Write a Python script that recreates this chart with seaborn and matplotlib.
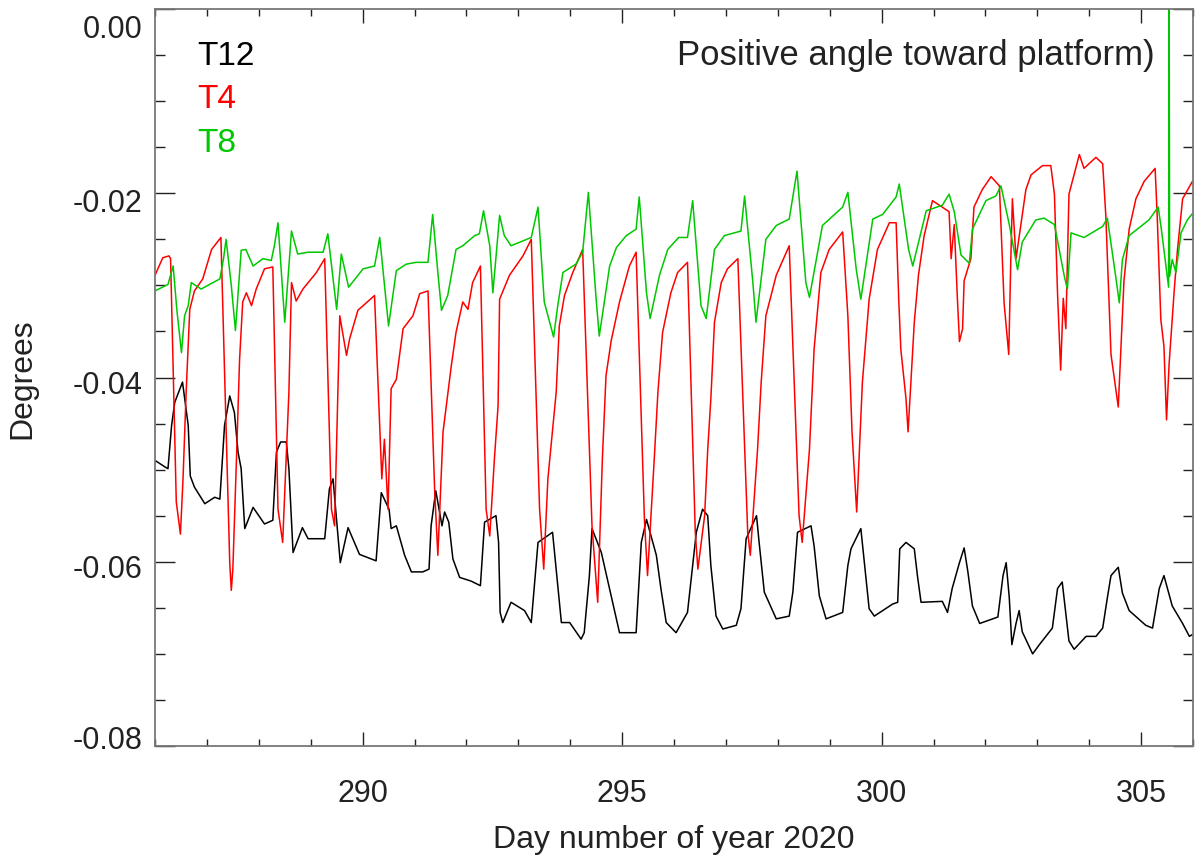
import matplotlib
matplotlib.use("Agg")
import matplotlib.pyplot as plt
import matplotlib.transforms as mtransforms
import numpy as np
import seaborn as sns
from matplotlib.ticker import FixedLocator, MultipleLocator

# Tilt of three towers (values in millidegrees)
t12_day = [286.00, 286.19, 286.25, 286.32, 286.38, 286.53, 286.64, 286.68, 286.76, 286.96,
           287.15, 287.25, 287.34, 287.44, 287.53, 287.60, 287.66, 287.73, 287.89, 288.11,
           288.27, 288.34, 288.42, 288.53, 288.58, 288.66, 288.84, 288.95, 289.27, 289.36,
           289.43, 289.57, 289.72, 289.94, 290.26, 290.36, 290.51, 290.55, 290.65, 290.81,
           290.94, 291.16, 291.28, 291.32, 291.41, 291.53, 291.58, 291.66, 291.74, 291.87,
           292.09, 292.27, 292.35, 292.57, 292.62, 292.65, 292.70, 292.86, 293.12, 293.25,
           293.38, 293.66, 293.73, 293.83, 293.99, 294.21, 294.27, 294.37, 294.42, 294.60,
           294.79, 294.95, 295.27, 295.37, 295.47, 295.66, 295.75, 295.85, 296.04, 296.26,
           296.36, 296.43, 296.55, 296.65, 296.71, 296.81, 296.94, 297.20, 297.29, 297.39,
           297.59, 297.64, 297.74, 297.97, 298.22, 298.29, 298.38, 298.64, 298.70, 298.80,
           298.93, 299.25, 299.35, 299.41, 299.60, 299.76, 299.86, 300.21, 300.31, 300.35,
           300.47, 300.63, 300.69, 300.76, 301.17, 301.27, 301.36, 301.50, 301.59, 301.66,
           301.75, 301.89, 302.24, 302.34, 302.40, 302.46, 302.51, 302.59, 302.65, 302.71,
           302.91, 303.04, 303.29, 303.39, 303.48, 303.61, 303.71, 303.94, 304.13, 304.26,
           304.35, 304.42, 304.56, 304.64, 304.77, 305.09, 305.22, 305.35, 305.44, 305.60,
           305.80, 305.93, 305.99]
t12_mdeg = [-49.0, -49.7, -49.9, -45.2, -42.7, -40.5, -45.2, -50.7, -51.9, -53.7,
            -53.0, -53.2, -45.2, -42.0, -43.8, -48.1, -49.9, -56.4, -54.1, -55.9,
            -55.5, -48.1, -47.0, -47.0, -49.9, -59.0, -56.3, -57.5, -57.5, -52.1,
            -51.0, -60.1, -56.3, -59.2, -59.9, -52.5, -54.3, -56.4, -56.1, -59.3,
            -61.1, -61.1, -60.8, -56.1, -52.3, -56.1, -54.6, -55.7, -59.7, -61.7,
            -62.1, -62.6, -55.7, -55.0, -57.9, -65.5, -66.6, -64.4, -65.3, -66.6,
            -57.9, -56.8, -60.8, -66.6, -66.6, -68.4, -67.7, -61.5, -56.4, -59.0,
            -63.7, -67.7, -67.7, -57.9, -55.4, -59.3, -63.0, -66.6, -67.7, -65.5,
            -60.4, -56.8, -54.3, -55.0, -60.4, -65.9, -67.3, -66.9, -65.1, -57.5,
            -55.0, -57.9, -63.3, -66.2, -65.9, -63.3, -56.8, -56.1, -58.3, -63.7,
            -66.2, -65.5, -60.4, -58.6, -56.4, -65.1, -65.9, -64.6, -64.4, -58.6,
            -57.9, -58.6, -61.5, -64.4, -64.3, -65.5, -62.9, -60.1, -58.5, -61.0,
            -64.8, -66.7, -66.0, -61.5, -60.1, -63.9, -69.0, -66.7, -65.3, -67.6,
            -70.0, -69.0, -67.2, -62.9, -62.2, -68.6, -69.5, -68.1, -68.1, -67.2,
            -63.9, -61.5, -60.6, -63.4, -65.3, -66.9, -67.2, -62.9, -61.5, -64.8,
            -66.7, -68.1, -67.9]

t4_day = [286.00, 286.15, 286.27, 286.30, 286.41, 286.49, 286.54, 286.60, 286.67, 286.76,
          286.92, 287.09, 287.27, 287.44, 287.47, 287.50, 287.57, 287.63, 287.69, 287.76,
          287.86, 287.95, 288.11, 288.27, 288.37, 288.46, 288.58, 288.63, 288.72, 288.85,
          289.11, 289.27, 289.40, 289.46, 289.56, 289.69, 289.75, 289.91, 290.23, 290.37,
          290.42, 290.49, 290.55, 290.65, 290.78, 290.97, 291.10, 291.26, 291.39, 291.45,
          291.55, 291.71, 291.80, 291.93, 292.03, 292.12, 292.27, 292.38, 292.45, 292.54,
          292.61, 292.64, 292.83, 293.09, 293.25, 293.41, 293.49, 293.57, 293.73, 293.79,
          293.89, 294.05, 294.24, 294.42, 294.53, 294.62, 294.69, 294.79, 294.95, 295.14,
          295.27, 295.43, 295.49, 295.62, 295.69, 295.78, 295.94, 296.07, 296.26, 296.41,
          296.46, 296.59, 296.65, 296.71, 296.78, 296.91, 297.03, 297.23, 297.42, 297.47,
          297.61, 297.68, 297.77, 297.97, 298.22, 298.41, 298.47, 298.61, 298.70, 298.83,
          298.99, 299.25, 299.35, 299.43, 299.52, 299.63, 299.76, 299.92, 300.15, 300.28,
          300.33, 300.37, 300.47, 300.51, 300.63, 300.71, 300.82, 300.98, 301.30, 301.34,
          301.40, 301.46, 301.50, 301.56, 301.59, 301.72, 301.78, 301.94, 302.11, 302.27,
          302.36, 302.45, 302.49, 302.52, 302.59, 302.78, 302.88, 303.10, 303.26, 303.33,
          303.39, 303.45, 303.50, 303.55, 303.61, 303.81, 303.90, 304.13, 304.26, 304.32,
          304.42, 304.56, 304.67, 304.77, 304.90, 305.06, 305.27, 305.31, 305.38, 305.44,
          305.49, 305.54, 305.64, 305.70, 305.80, 305.99]
t4_mdeg = [-28.9, -27.0, -26.8, -27.1, -53.5, -57.0, -51.0, -41.6, -32.6, -30.6,
           -29.3, -26.1, -24.8, -60.1, -63.1, -60.8, -48.8, -38.0, -31.8, -30.8,
           -32.2, -30.4, -28.2, -28.0, -54.3, -57.9, -41.6, -29.7, -31.7, -30.4,
           -28.6, -27.1, -54.3, -56.1, -33.3, -37.6, -35.8, -32.7, -31.1, -51.0,
           -46.7, -54.3, -41.2, -40.2, -34.7, -33.3, -30.9, -30.6, -52.5, -59.3,
           -45.9, -38.7, -35.1, -31.8, -32.6, -29.7, -27.9, -54.3, -57.2, -48.8,
           -43.1, -31.5, -28.9, -26.8, -25.0, -54.3, -60.8, -51.0, -41.6, -34.4,
           -31.1, -28.6, -26.1, -56.1, -64.4, -48.8, -39.8, -36.0, -31.8, -27.9,
           -26.4, -55.4, -61.5, -48.8, -41.6, -35.1, -30.8, -28.6, -27.5, -56.8,
           -60.8, -55.0, -47.8, -42.3, -34.0, -29.7, -28.2, -27.1, -56.8, -59.3,
           -47.8, -40.5, -33.3, -28.9, -25.7, -55.0, -57.9, -47.8, -36.9, -28.6,
           -26.1, -24.2, -33.3, -45.9, -54.6, -40.5, -31.5, -26.1, -23.2, -23.2,
           -31.5, -36.9, -42.3, -45.9, -34.0, -28.9, -24.6, -20.8, -22.0, -27.1,
           -23.4, -31.4, -36.1, -34.7, -29.5, -27.1, -21.5, -19.6, -18.2, -19.2,
           -31.9, -37.5, -27.1, -20.6, -27.1, -19.6, -18.0, -17.0, -17.0, -20.1,
           -30.9, -39.2, -31.4, -34.7, -20.1, -15.8, -17.3, -16.1, -16.8, -22.4,
           -37.5, -43.2, -29.5, -23.9, -20.6, -18.7, -17.3, -22.4, -33.7, -36.6,
           -44.6, -38.5, -30.4, -26.2, -20.6, -18.7]

t8_day = [286.00, 286.25, 286.35, 286.42, 286.51, 286.57, 286.64, 286.70, 286.89, 287.05,
          287.25, 287.32, 287.37, 287.47, 287.55, 287.66, 287.75, 287.89, 288.08, 288.24,
          288.30, 288.37, 288.50, 288.63, 288.75, 288.95, 289.24, 289.33, 289.50, 289.59,
          289.73, 290.01, 290.23, 290.33, 290.50, 290.65, 290.84, 291.03, 291.26, 291.35,
          291.45, 291.52, 291.64, 291.80, 291.93, 292.16, 292.25, 292.33, 292.45, 292.51,
          292.64, 292.73, 292.86, 293.25, 293.38, 293.50, 293.68, 293.76, 293.86, 294.11,
          294.24, 294.35, 294.50, 294.56, 294.76, 294.89, 295.08, 295.27, 295.33, 295.47,
          295.54, 295.72, 295.88, 296.09, 296.26, 296.36, 296.52, 296.62, 296.78, 296.97,
          297.29, 297.36, 297.52, 297.58, 297.77, 297.97, 298.22, 298.37, 298.54, 298.61,
          298.86, 299.25, 299.35, 299.51, 299.60, 299.83, 300.02, 300.28, 300.34, 300.52,
          300.60, 300.86, 301.17, 301.30, 301.40, 301.53, 301.69, 301.75, 302.01, 302.20,
          302.30, 302.46, 302.62, 302.71, 302.97, 303.13, 303.33, 303.52, 303.58, 303.65,
          303.90, 304.26, 304.35, 304.51, 304.58, 304.64, 304.77, 305.15, 305.33, 305.39,
          305.53, 305.54, 305.55, 305.60, 305.67, 305.77, 305.89, 305.99]
t8_mdeg = [-30.6, -29.9, -27.9, -32.6, -37.3, -33.3, -32.2, -29.7, -30.4, -29.9,
           -29.3, -27.1, -25.0, -30.0, -34.9, -26.2, -26.1, -27.9, -27.1, -27.3,
           -25.7, -23.2, -34.0, -24.1, -26.6, -26.4, -26.4, -24.4, -32.6, -26.6,
           -30.2, -28.2, -27.9, -24.8, -34.4, -28.4, -27.7, -27.5, -27.5, -22.3,
           -28.6, -32.7, -31.1, -26.1, -25.7, -24.6, -24.4, -21.9, -25.7, -30.8,
           -22.4, -24.6, -25.7, -24.8, -21.5, -31.8, -35.6, -32.2, -28.6, -27.7,
           -26.4, -19.9, -31.5, -35.5, -27.9, -25.9, -24.6, -23.9, -20.4, -30.8,
           -33.6, -28.9, -26.1, -24.8, -24.8, -20.8, -32.2, -33.6, -26.1, -24.6,
           -24.1, -20.3, -29.7, -34.0, -25.0, -23.5, -22.8, -17.6, -29.7, -31.3,
           -23.5, -21.5, -19.9, -28.2, -31.5, -22.8, -22.3, -20.4, -19.0, -26.1,
           -27.9, -21.9, -21.3, -20.1, -22.0, -26.7, -27.6, -23.9, -20.8, -20.3,
           -19.2, -23.4, -28.3, -25.3, -22.9, -22.7, -23.4, -29.0, -30.4, -24.3,
           -24.8, -23.6, -22.7, -29.0, -31.9, -27.2, -24.6, -22.9, -21.5, -23.9,
           -30.2, 2.0, -29.0, -27.2, -28.6, -24.3, -22.9, -22.2]

x_ticks = [290, 295, 300, 305]
y_ticks = [-0.08, -0.06, -0.04, -0.02, 0.00]
y_tick_labels = ["-0.08", "-0.06", "-0.04", "-0.02", "0.00"]

ink = "#222222"

sns.set_style("ticks")
plt.rcParams["font.family"] = ["Liberation Sans", "DejaVu Sans"]
plt.rcParams["axes.unicode_minus"] = False

fig = plt.figure(figsize=(12.01, 8.62), dpi=100)
ax = fig.add_axes([155 / 1201, 115 / 862, 1038 / 1201, 737 / 862])

series = [
    (t12_day, t12_mdeg, "black"),
    (t4_day, t4_mdeg, "#ff0000"),
    (t8_day, t8_mdeg, "#00c800"),
]
for day, mdeg, col in series:
    sns.lineplot(x=day, y=np.array(mdeg) / 1000.0, ax=ax, color=col,
                 linewidth=1.1, sort=False, estimator=None)

ax.set_xlim(286, 306)
ax.set_ylim(-0.08, 0.0)
ax.xaxis.set_major_locator(FixedLocator(x_ticks))
ax.xaxis.set_minor_locator(MultipleLocator(1))
ax.set_yticks(y_ticks)
ax.set_yticklabels(y_tick_labels)
ax.yaxis.set_minor_locator(MultipleLocator(0.005))

ax.tick_params(which="both", direction="in", top=True, right=True,
               color=ink, labelcolor=ink, width=1.0, labelsize=22)
ax.tick_params(axis="x", which="major", length=10, pad=23)
ax.tick_params(axis="x", which="minor", length=5)
ax.tick_params(axis="y", which="major", length=14.4, pad=9)
ax.tick_params(axis="y", which="minor", length=7)

for sp in ax.spines.values():
    sp.set_color("#777777")
    sp.set_linewidth(1.3)

# IDL style: end labels pulled inside the axis range
shifts_px = [-9.5, 3.5, 4.5, 6.0, 16.0]
for lab, s in zip(ax.get_yticklabels(), shifts_px):
    lab.set_transform(lab.get_transform()
                      + mtransforms.ScaledTranslation(0, -s / 100, fig.dpi_scale_trans))

ax.set_xlabel("Day number of year 2020", fontsize=23, color=ink)
ax.set_ylabel("Degrees", fontsize=23, color=ink)
ax.xaxis.set_label_coords(0.5, -0.106)
ax.yaxis.set_label_coords(-0.1137, 0.5)

ax.text(0.0405, 0.925, "T12", transform=ax.transAxes, fontsize=24, color="black")
ax.text(0.0405, 0.867, "T4", transform=ax.transAxes, fontsize=24, color="#ff0000")
ax.text(0.0405, 0.807, "T8", transform=ax.transAxes, fontsize=24, color="#00c800")
ax.text(0.963, 0.925, "Positive angle toward platform)", transform=ax.transAxes,
        fontsize=25, color=ink, ha="right")

fig.savefig("out.png", dpi=100)
